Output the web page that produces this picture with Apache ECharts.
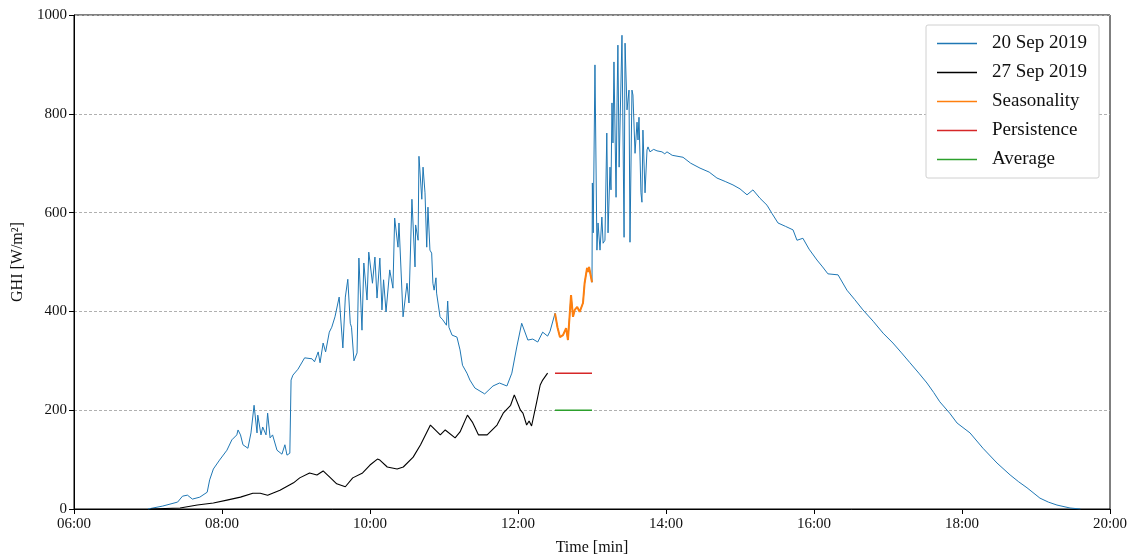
<!DOCTYPE html>
<html>
<head>
<meta charset="utf-8">
<title>GHI</title>
<script src="https://cdn.jsdelivr.net/npm/echarts@6/dist/echarts.min.js"></script>
<style>
    html, body { margin: 0; padding: 0; background: #fff; }
    #ghiChart { width: 1136px; height: 556px; }
</style>
</head>
<body>
<div id="ghiChart"></div>
<script>
    // 20 Sep 2019 (minutes after midnight / GHI)
    var sep20Min = [420, 432, 444, 448, 452, 456, 462, 468, 470, 473, 478, 484, 488, 492, 493, 495, 497, 501, 503.5, 506,
        508.4, 509, 511.6, 513, 515.7, 517, 519, 521, 524.6, 528.6, 531, 532.7, 535, 536, 537.5, 541.6, 547, 553, 555, 558,
        559.5, 562, 564, 567, 569, 570, 571.6, 575, 578, 580, 581, 582, 584, 585, 587, 589.5, 591, 593.5, 595, 597.6,
        599, 602, 604, 605.7, 608, 609.7, 611, 613, 616, 618.6, 620, 622.7, 623.5, 626.8, 630, 631.6, 634, 636.5, 637, 639,
        639.7, 642, 643, 644.6, 646, 647, 648.6, 650, 651, 652, 653.5, 654, 656.8, 659, 662, 663, 664, 666.5, 670.5, 673,
        675, 678.6, 681, 685, 693, 699.7, 705, 711, 715, 719, 723, 728, 732, 736, 740, 744, 746,
        750, 752, 754, 756.5, 759, 760.5, 763, 764.6, 766, 768, 770, 772.7, 774, 776, 777, 777.6, 780,
        780.3, 781, 782.4, 784, 784.9, 786.5, 788, 789, 790.5, 792, 793, 794.6, 795.4, 796.2, 797, 797.8, 799.5, 800.3, 801, 802,
        804.3, 806, 806.8, 808.4, 810, 810.8, 812.4, 813.2, 814.9, 816.5, 817.3, 818.1, 819.7, 820.5, 821.3, 823, 824.6, 825.4, 827, 830,
        832.7, 836.7, 839, 840.8, 845, 853.8, 860, 867.6, 875, 881.3, 888, 894.3, 900, 905.7, 910.5, 916.2, 921.9, 926, 930.8, 937,
        943, 946.2, 951, 956, 962.4, 967, 971.3, 979.5, 986.7, 993, 999.7, 1008, 1016, 1024, 1031, 1037.8, 1045, 1051.6, 1057, 1062,
        1070, 1076, 1086.5, 1097, 1108.4, 1119, 1126, 1132.7, 1143.2, 1150, 1157, 1167.6, 1176];
    var sep20Ghi = [0, 6, 14, 26, 28, 20, 24, 34, 59, 81, 99, 119, 140, 150, 160, 150, 130, 123, 154, 210,
        154, 190, 150, 166, 150, 194, 144, 150, 119, 111, 130, 109, 113, 261, 271, 283, 306, 304, 298, 318,
        296, 336, 318, 358, 368, 366, 389, 429, 326, 429, 427, 465, 376, 368, 300, 316, 508, 362, 498, 423,
        520, 457, 510, 427, 508, 403, 464, 399, 484, 447, 589, 530, 579, 389, 457, 417, 627, 490, 575, 544,
        714, 627, 692, 640, 530, 611, 524, 518, 457, 443, 468, 437, 389, 383, 372, 421, 368, 352, 348, 322,
        291, 275, 261, 245, 233, 249, 255, 249, 275, 328, 376, 342, 344, 338, 358, 350, 360,
        396, 368, 348, 352, 366, 342, 433, 389, 403, 409, 399, 417, 457, 488, 480, 490, 459,
        660, 559, 899, 524, 579, 524, 591, 538, 544, 761, 559, 692, 646, 822, 741, 905, 631, 822, 939, 692,
        959, 550, 943, 808, 848, 540, 848, 838, 720, 783, 747, 793, 640, 621, 767, 640, 727, 733, 723, 728,
        725, 723, 719, 723, 716, 712, 700, 690, 682, 670, 663, 656, 648, 636, 646, 629, 615, 598, 579, 572,
        565, 544, 548, 526, 504, 490, 476, 474, 443, 424, 403, 380, 356, 336, 316, 296, 275, 255, 236, 217,
        194, 174, 154, 123, 93, 69, 55, 43, 22, 14, 8, 2, 0];

    // 27 Sep 2019
    var sep27Min = [422, 446, 460, 473, 484, 495, 505, 511, 517, 527, 538, 543, 551, 557, 562, 568, 573, 580, 586, 594,
        600, 606, 608, 614, 622, 627, 635, 641, 649, 657, 661, 669, 673, 679, 683, 688, 695, 703, 708, 714,
        717, 722, 724, 727, 729, 731, 735, 738, 740, 744];
    var sep27Ghi = [0, 2, 8, 12, 18, 24, 32, 32, 28, 38, 53, 63, 73, 69, 77, 63, 51, 45, 63, 73,
        89, 101, 99, 85, 81, 85, 105, 130, 170, 150, 160, 144, 156, 190, 176, 150, 150, 170, 194, 210,
        231, 200, 194, 170, 178, 168, 215, 251, 261, 275];

    // forecast window 12:30 - 13:00
    var windowStart = 750;
    var windowEnd = 780;
    var persistenceGhi = 275;
    var averageGhi = 200;

    var xTicks = [360, 480, 600, 720, 840, 960, 1080, 1200];
    var seriesNames = ['20 Sep 2019', '27 Sep 2019', 'Seasonality', 'Persistence', 'Average'];

    function zip(a, b) {
        var out = [];
        for (var i = 0; i < a.length; i++) {
            out.push([a[i], b[i]]);
        }
        return out;
    }

    function hhmm(v) {
        var h = Math.floor(v / 60), m = Math.round(v % 60);
        return (h < 10 ? '0' : '') + h + ':' + (m < 10 ? '0' : '') + m;
    }

    var sep20Data = zip(sep20Min, sep20Ghi);
    var seasonData = sep20Data.filter(function (p) { return p[0] >= windowStart && p[0] <= windowEnd; });

    var font = 'Liberation Serif';
    var chart = echarts.init(document.getElementById('ghiChart'));

    chart.setOption({
        animation: false,
        textStyle: { fontFamily: font },
        grid: {
            left: 74, right: 26, top: 15, bottom: 47,
            outerBoundsMode: 'none',
            show: true, borderColor: '#000', borderWidth: 1
        },
        legend: {
            data: seriesNames,
            orient: 'vertical',
            right: 37,
            top: 25,
            padding: [9, 12, 9, 11],
            icon: 'rect',
            itemWidth: 40,
            itemHeight: 1.5,
            itemGap: 10,
            backgroundColor: '#fff',
            borderColor: '#d0d0d0',
            borderWidth: 1,
            borderRadius: 2,
            textStyle: { fontFamily: font, fontSize: 19, color: '#111', padding: [0, 0, 0, 10] }
        },
        xAxis: {
            type: 'value',
            min: 360,
            max: 1200,
            interval: 120,
            name: 'Time [min]',
            nameLocation: 'middle',
            nameGap: 31,
            nameTextStyle: { fontFamily: font, fontSize: 16, color: '#111' },
            axisLine: { lineStyle: { color: '#000', width: 1 } },
            axisTick: { length: 5, lineStyle: { color: '#000' } },
            axisLabel: {
                fontFamily: font, fontSize: 15, color: '#111', margin: 8,
                formatter: function (v) { return xTicks.indexOf(v) >= 0 ? hhmm(v) : ''; }
            },
            splitLine: { show: false }
        },
        yAxis: {
            type: 'value',
            min: 0,
            max: 1000,
            interval: 200,
            name: 'GHI [W/m²]',
            nameLocation: 'middle',
            nameRotate: 90,
            nameGap: 42,
            nameTextStyle: { fontFamily: font, fontSize: 16, color: '#111' },
            axisLine: { show: true, lineStyle: { color: '#000', width: 1 } },
            axisTick: { show: true, length: 5, lineStyle: { color: '#000' } },
            axisLabel: {
                fontFamily: font, fontSize: 15, color: '#111', margin: 7,
                formatter: function (v) { return String(v); }
            },
            splitLine: { show: true, lineStyle: { color: '#b0b0b0', type: [3, 2], width: 1 } }
        },
        series: [
            {
                name: seriesNames[0], type: 'line', symbol: 'none', sampling: 'none',
                color: '#1f77b4', lineStyle: { width: 1 },
                data: sep20Data
            },
            {
                name: seriesNames[1], type: 'line', symbol: 'none',
                color: '#000000', lineStyle: { width: 1.1 },
                data: zip(sep27Min, sep27Ghi)
            },
            {
                name: seriesNames[2], type: 'line', symbol: 'none',
                color: '#ff7f0e', lineStyle: { width: 2 },
                data: seasonData
            },
            {
                name: seriesNames[3], type: 'line', symbol: 'none',
                color: '#d62728', lineStyle: { width: 1.5 },
                data: [[windowStart, persistenceGhi], [windowEnd, persistenceGhi]]
            },
            {
                name: seriesNames[4], type: 'line', symbol: 'none',
                color: '#2ca02c', lineStyle: { width: 1.5 },
                data: [[windowStart, averageGhi], [windowEnd, averageGhi]]
            }
        ]
    });
</script>
</body>
</html>
